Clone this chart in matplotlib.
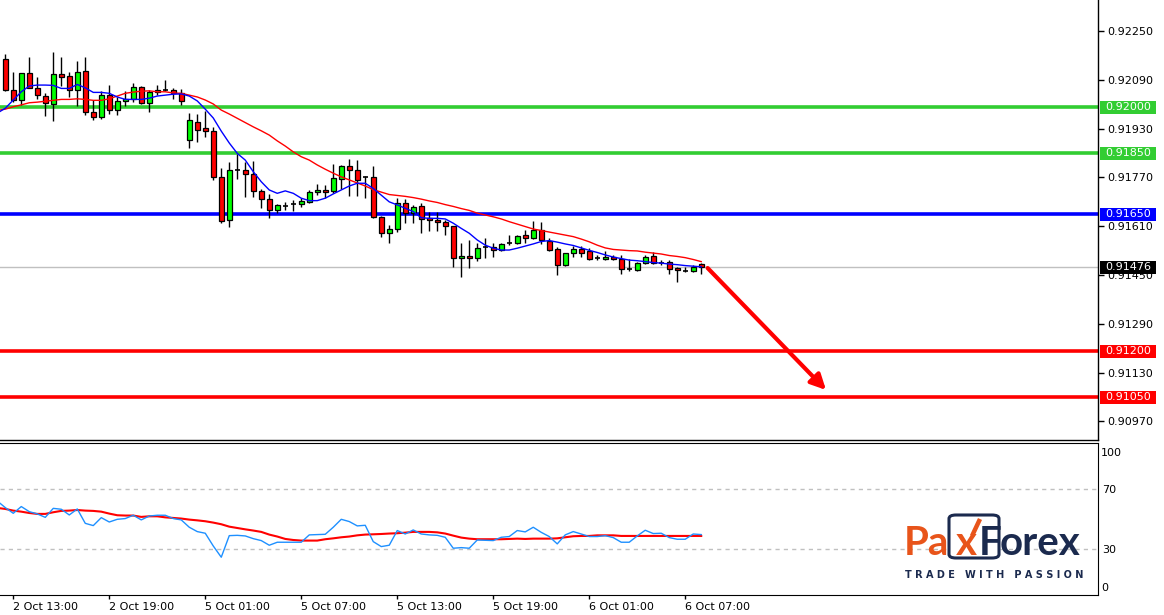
import numpy as np
import matplotlib.pyplot as plt
from matplotlib.patches import Rectangle, FancyBboxPatch
from matplotlib.lines import Line2D
import matplotlib.transforms as mtransforms

# ---- data (USDCHF M30) ----
candle_x = np.arange(-1, 87)
opens = [0.92158, 0.92056, 0.92023, 0.92112, 0.92062, 0.92036, 0.92010, 0.92109, 0.92102, 0.92056,
         0.92118, 0.91985, 0.91969, 0.92039, 0.91990, 0.92020, 0.92026, 0.92066, 0.92013, 0.92049,
         0.92058, 0.92056, 0.92046, 0.91894, 0.91951, 0.91931, 0.91921, 0.91770, 0.91629, 0.91793,
         0.91793, 0.91780, 0.91725, 0.91698, 0.91662, 0.91677, 0.91682, 0.91682, 0.91688, 0.91721,
         0.91728, 0.91725, 0.91764, 0.91807, 0.91793, 0.91770, 0.91770, 0.91641, 0.91587, 0.91602,
         0.91685, 0.91652, 0.91676, 0.91636, 0.91629, 0.91623, 0.91610, 0.91505, 0.91511, 0.91505,
         0.91541, 0.91541, 0.91531, 0.91554, 0.91554, 0.91580, 0.91570, 0.91597, 0.91561, 0.91534,
         0.91482, 0.91521, 0.91534, 0.91528, 0.91505, 0.91501, 0.91508, 0.91501, 0.91469, 0.91465,
         0.91488, 0.91511, 0.91488, 0.91492, 0.91472, 0.91462, 0.91462, 0.91485]
highs = [0.92175, 0.92116, 0.92113, 0.92165, 0.92099, 0.92046, 0.92181, 0.92165, 0.92116, 0.92152,
         0.92165, 0.92024, 0.92055, 0.92073, 0.92035, 0.92054, 0.92080, 0.92069, 0.92057, 0.92072,
         0.92089, 0.92062, 0.92059, 0.91981, 0.91978, 0.91988, 0.91935, 0.91800, 0.91820, 0.91846,
         0.91820, 0.91823, 0.91731, 0.91715, 0.91682, 0.91688, 0.91695, 0.91702, 0.91728, 0.91748,
         0.91744, 0.91813, 0.91810, 0.91829, 0.91827, 0.91775, 0.91808, 0.91643, 0.91614, 0.91702,
         0.91698, 0.91680, 0.91685, 0.91658, 0.91658, 0.91630, 0.91611, 0.91554, 0.91565, 0.91554,
         0.91570, 0.91554, 0.91554, 0.91581, 0.91580, 0.91597, 0.91627, 0.91623, 0.91570, 0.91541,
         0.91522, 0.91544, 0.91544, 0.91538, 0.91515, 0.91528, 0.91515, 0.91515, 0.91501, 0.91492,
         0.91515, 0.91525, 0.91498, 0.91498, 0.91475, 0.91478, 0.91482, 0.91488]
lows = [0.92054, 0.92017, 0.92007, 0.92062, 0.92028, 0.91973, 0.91956, 0.92071, 0.92034, 0.92005,
        0.91976, 0.91959, 0.91963, 0.91979, 0.91976, 0.92005, 0.92017, 0.92010, 0.91986, 0.92039,
        0.92055, 0.92028, 0.92007, 0.91865, 0.91887, 0.91903, 0.91761, 0.91620, 0.91608, 0.91765,
        0.91705, 0.91705, 0.91671, 0.91636, 0.91652, 0.91662, 0.91659, 0.91672, 0.91685, 0.91711,
        0.91702, 0.91718, 0.91731, 0.91708, 0.91709, 0.91702, 0.91636, 0.91576, 0.91554, 0.91592,
        0.91620, 0.91620, 0.91587, 0.91595, 0.91595, 0.91580, 0.91475, 0.91444, 0.91472, 0.91497,
        0.91505, 0.91508, 0.91529, 0.91547, 0.91551, 0.91554, 0.91567, 0.91551, 0.91530, 0.91449,
        0.91481, 0.91508, 0.91508, 0.91498, 0.91498, 0.91498, 0.91498, 0.91452, 0.91462, 0.91462,
        0.91485, 0.91485, 0.91482, 0.91452, 0.91426, 0.91459, 0.91459, 0.91452]
closes = [0.92056, 0.92023, 0.92112, 0.92063, 0.92039, 0.92013, 0.92108, 0.92098, 0.92056, 0.92115,
          0.91984, 0.91969, 0.92039, 0.91990, 0.92020, 0.92026, 0.92066, 0.92013, 0.92049, 0.92056,
          0.92058, 0.92046, 0.92020, 0.91958, 0.91925, 0.91921, 0.91770, 0.91626, 0.91793, 0.91793,
          0.91780, 0.91725, 0.91701, 0.91662, 0.91679, 0.91677, 0.91682, 0.91692, 0.91721, 0.91728,
          0.91721, 0.91767, 0.91807, 0.91793, 0.91762, 0.91770, 0.91641, 0.91587, 0.91602, 0.91685,
          0.91652, 0.91674, 0.91633, 0.91629, 0.91623, 0.91610, 0.91505, 0.91511, 0.91505, 0.91538,
          0.91541, 0.91531, 0.91551, 0.91554, 0.91577, 0.91570, 0.91597, 0.91564, 0.91531, 0.91482,
          0.91521, 0.91534, 0.91521, 0.91501, 0.91505, 0.91508, 0.91501, 0.91469, 0.91469, 0.91488,
          0.91508, 0.91488, 0.91488, 0.91469, 0.91465, 0.91462, 0.91478, 0.91476]

ma_x = np.arange(-2, 87)
ma_fast = [0.91981, 0.91997, 0.92024, 0.92051, 0.92070, 0.92073, 0.92073, 0.92072, 0.92062, 0.92062,
           0.92075, 0.92064, 0.92049, 0.92049, 0.92046, 0.92034, 0.92026, 0.92026, 0.92026, 0.92030,
           0.92037, 0.92040, 0.92043, 0.92044, 0.92037, 0.92021, 0.91994, 0.91965, 0.91922, 0.91883,
           0.91849, 0.91827, 0.91789, 0.91756, 0.91729, 0.91718, 0.91726, 0.91718, 0.91702, 0.91694,
           0.91694, 0.91702, 0.91716, 0.91729, 0.91742, 0.91751, 0.91751, 0.91734, 0.91712, 0.91690,
           0.91680, 0.91669, 0.91658, 0.91638, 0.91636, 0.91636, 0.91634, 0.91620, 0.91603, 0.91587,
           0.91565, 0.91548, 0.91538, 0.91532, 0.91532, 0.91538, 0.91545, 0.91552, 0.91560, 0.91563,
           0.91558, 0.91552, 0.91547, 0.91539, 0.91531, 0.91524, 0.91516, 0.91509, 0.91504, 0.91499,
           0.91497, 0.91494, 0.91491, 0.91489, 0.91486, 0.91484, 0.91481, 0.91479, 0.91477]
ma_slow = [0.91990, 0.91994, 0.92002, 0.92008, 0.92015, 0.92017, 0.92020, 0.92023, 0.92026, 0.92026,
           0.92028, 0.92026, 0.92023, 0.92023, 0.92028, 0.92037, 0.92046, 0.92050, 0.92053, 0.92054,
           0.92051, 0.92051, 0.92047, 0.92046, 0.92040, 0.92034, 0.92024, 0.92011, 0.91991, 0.91978,
           0.91964, 0.91950, 0.91936, 0.91923, 0.91909, 0.91890, 0.91873, 0.91854, 0.91838, 0.91827,
           0.91811, 0.91797, 0.91784, 0.91772, 0.91762, 0.91752, 0.91742, 0.91730, 0.91722, 0.91714,
           0.91711, 0.91708, 0.91704, 0.91699, 0.91693, 0.91688, 0.91681, 0.91675, 0.91668, 0.91662,
           0.91653, 0.91647, 0.91641, 0.91634, 0.91625, 0.91617, 0.91609, 0.91601, 0.91596, 0.91591,
           0.91586, 0.91581, 0.91576, 0.91568, 0.91559, 0.91548, 0.91539, 0.91534, 0.91532, 0.91530,
           0.91529, 0.91525, 0.91522, 0.91519, 0.91514, 0.91511, 0.91507, 0.91501, 0.91494]

osc = [62.2, 57.8, 54.0, 58.5, 55.1, 53.6, 51.3, 57.3, 56.7, 52.9, 56.9, 47.3, 45.8, 51.1, 48.2,
       50.0, 50.5, 52.7, 49.6, 52.2, 52.7, 52.7, 50.5, 49.6, 44.7, 41.8, 40.7, 32.2, 24.7, 39.1,
       39.3, 38.9, 37.1, 35.8, 32.7, 34.7, 34.7, 34.7, 34.7, 39.6, 39.8, 40.0, 44.7, 50.0, 48.5,
       45.6, 46.0, 35.1, 31.8, 32.7, 42.5, 40.2, 42.9, 40.2, 39.6, 39.3, 38.0, 30.7, 31.1, 30.7,
       36.2, 36.0, 35.8, 38.0, 38.5, 42.5, 41.6, 44.7, 41.3, 38.5, 33.6, 39.6, 41.8, 40.2, 38.5,
       38.5, 39.1, 37.8, 34.7, 34.7, 38.9, 42.7, 40.5, 40.7, 37.8, 36.7, 36.7, 40.2, 39.8]
osc_signal = [57.6, 56.9, 55.8, 55.1, 54.2, 53.6, 53.6, 54.7, 55.6, 55.8, 56.2, 55.8, 55.6, 55.1, 53.8,
              52.7, 52.5, 52.5, 51.6, 52.0, 52.0, 51.3, 50.9, 50.5, 49.8, 49.3, 48.7, 47.8, 46.7, 45.1,
              44.2, 43.3, 42.5, 41.6, 39.8, 38.5, 36.9, 36.2, 35.8, 35.8, 35.8, 36.7, 37.3, 38.0, 38.5,
              39.3, 39.8, 40.0, 40.2, 40.5, 40.7, 41.1, 41.6, 41.6, 41.6, 41.3, 40.5, 39.1, 37.8, 37.1,
              36.7, 36.7, 36.7, 36.7, 36.9, 37.1, 36.9, 37.1, 37.1, 37.1, 37.3, 38.0, 38.7, 38.9, 38.9,
              39.3, 39.3, 39.3, 38.9, 38.9, 38.9, 38.9, 38.9, 38.9, 38.9, 38.9, 38.9, 38.9, 38.9]

levels = [0.92000, 0.91850, 0.91650, 0.91200, 0.91050]
level_colors = ['#32cd32', '#32cd32', '#0000ff', '#ff0000', '#ff0000']
last_price = 0.91476
price_ticks = [0.92250, 0.92090, 0.91930, 0.91770, 0.91610, 0.91450, 0.91290, 0.91130, 0.90970]
time_ticks = [0, 12, 24, 36, 48, 60, 72, 84]
time_labels = ['2 Oct 13:00', '2 Oct 19:00', '5 Oct 01:00', '5 Oct 07:00',
               '5 Oct 13:00', '5 Oct 19:00', '6 Oct 01:00', '6 Oct 07:00']
arrow_start = (86.8, 0.91473)
arrow_end = (101.6, 0.91073)

W, H = 1164, 615
fig = plt.figure(figsize=(W / 100, H / 100), dpi=100)
fig.patch.set_facecolor('white')
plt.rcParams['font.family'] = 'DejaVu Sans'

ax = fig.add_axes([0, 1 - 440 / H, 1098 / W, 440 / H])
ax2 = fig.add_axes([0, 1 - 595 / H, 1098 / W, 152 / H], sharex=ax)

xmin, xmax = -1.66, 135.6
ax.set_xlim(xmin, xmax)
ax.set_ylim(0.90909, 0.92352)

# horizontal levels
ax.axhline(last_price, color='#c0c0c0', lw=1, zorder=1)
for lv, col in zip(levels, level_colors):
    ax.axhline(lv, color=col, lw=2.6, zorder=1.5)

# candles
body_w = 0.62
ax.vlines(candle_x, lows, highs, color='black', lw=1, zorder=2)
for x, o, h, l, c in zip(candle_x, opens, highs, lows, closes):
    if abs(c - o) < 1e-6:
        ax.hlines(o, x - body_w / 2, x + body_w / 2, color='black', lw=1.2, zorder=3)
    else:
        col = '#00ff00' if c > o else '#ff0000'
        ax.add_patch(Rectangle((x - body_w / 2, min(o, c)), body_w, abs(c - o),
                               facecolor=col, edgecolor='black', lw=0.9, zorder=3))

ax.plot(ma_x, ma_slow, color='#ff0000', lw=1, zorder=4)
ax.plot(ma_x, ma_fast, color='#0000ff', lw=1, zorder=4)

ax.annotate('', xy=arrow_end, xytext=arrow_start,
            arrowprops=dict(arrowstyle='-|>,head_length=0.9,head_width=0.45',
                            color='#ff0000', lw=3, shrinkA=0, shrinkB=0), zorder=5)

# axes styling main
for s in ['left', 'top']:
    ax.spines[s].set_visible(False)
ax.spines['right'].set_linewidth(1)
ax.spines['bottom'].set_linewidth(1)
ax.yaxis.tick_right()
ax.set_yticks(price_ticks)
ax.set_yticklabels(['%.5f' % p for p in price_ticks])
ax.tick_params(axis='y', length=4, width=1, pad=3, labelsize=8)
ax.tick_params(axis='x', bottom=False, labelbottom=False)

# price tags on the right
tag_tr = mtransforms.blended_transform_factory(ax.transAxes, ax.transData)
px = 1 / 1098
half = 6.5 * (0.92352 - 0.90909) / 440
for val, col in list(zip(levels, level_colors)) + [(last_price, 'black')]:
    ax.add_patch(Rectangle((1 + 2 * px, val - half), 56 * px, 2 * half, transform=tag_tr,
                           facecolor=col, edgecolor='none', clip_on=False, zorder=6))
    ax.text(1 + 30 * px, val, '%.5f' % val, transform=tag_tr, color='white', fontsize=8,
            ha='center', va='center', clip_on=False, zorder=7)

# oscillator panel
ax2.set_ylim(-0.5, 100.9)
ax2.axhline(70, color='#c0c0c0', lw=1, ls=(0, (3, 3)))
ax2.axhline(30, color='#c0c0c0', lw=1, ls=(0, (3, 3)))
ax2.plot(ma_x, osc, color='#1e90ff', lw=1, zorder=3)
ax2.plot(ma_x, osc_signal, color='#ff0000', lw=1.5, zorder=2)
ax2.spines['left'].set_visible(False)
ax2.yaxis.tick_right()
ax2.set_yticks([70, 30])
ax2.tick_params(axis='y', length=0, pad=3, labelsize=8)
ax2.text(1.003, 94.2, '100', transform=ax2.get_yaxis_transform(), fontsize=8, va='center')
ax2.text(1.003, 4.3, '0', transform=ax2.get_yaxis_transform(), fontsize=8, va='center')
ax2.set_xticks(time_ticks)
ax2.set_xticklabels(time_labels, ha='left')
ax2.tick_params(axis='x', length=3, width=1, pad=2, labelsize=8)

# logo
def fx(x):
    return x / W

def fy(y):
    return 1 - y / H

orange, navy = '#e8541a', '#1b2a4e'
fig.patches.append(FancyBboxPatch((fx(949), fy(558)), fx(50), 43 / H,
                                  boxstyle='round,pad=0,rounding_size=0.006',
                                  transform=fig.transFigure, facecolor='white',
                                  edgecolor=navy, lw=2.2, zorder=5))
logo_font = dict(fontsize=29, fontweight='bold', family='Lato', va='baseline', zorder=6)
fig.text(fx(904), fy(555), 'Pa', color=orange, **logo_font)
fig.text(fx(956), fy(555), 'x', color=orange, **logo_font)
fig.text(fx(979), fy(555), 'F', color=navy, **logo_font)
fig.text(fx(1000), fy(555), 'orex', color=navy, **logo_font)
fig.lines.append(Line2D([fx(972), fx(980)], [fy(536), fy(519)], transform=fig.transFigure,
                        color=orange, lw=3.2, solid_capstyle='butt', zorder=7))
fig.text(fx(905), fy(578), 'T R A D E   W I T H   P A S S I O N', color=navy,
         fontsize=7, fontweight='bold', family='DejaVu Sans', va='baseline')

fig.savefig('out.png', dpi=100)
